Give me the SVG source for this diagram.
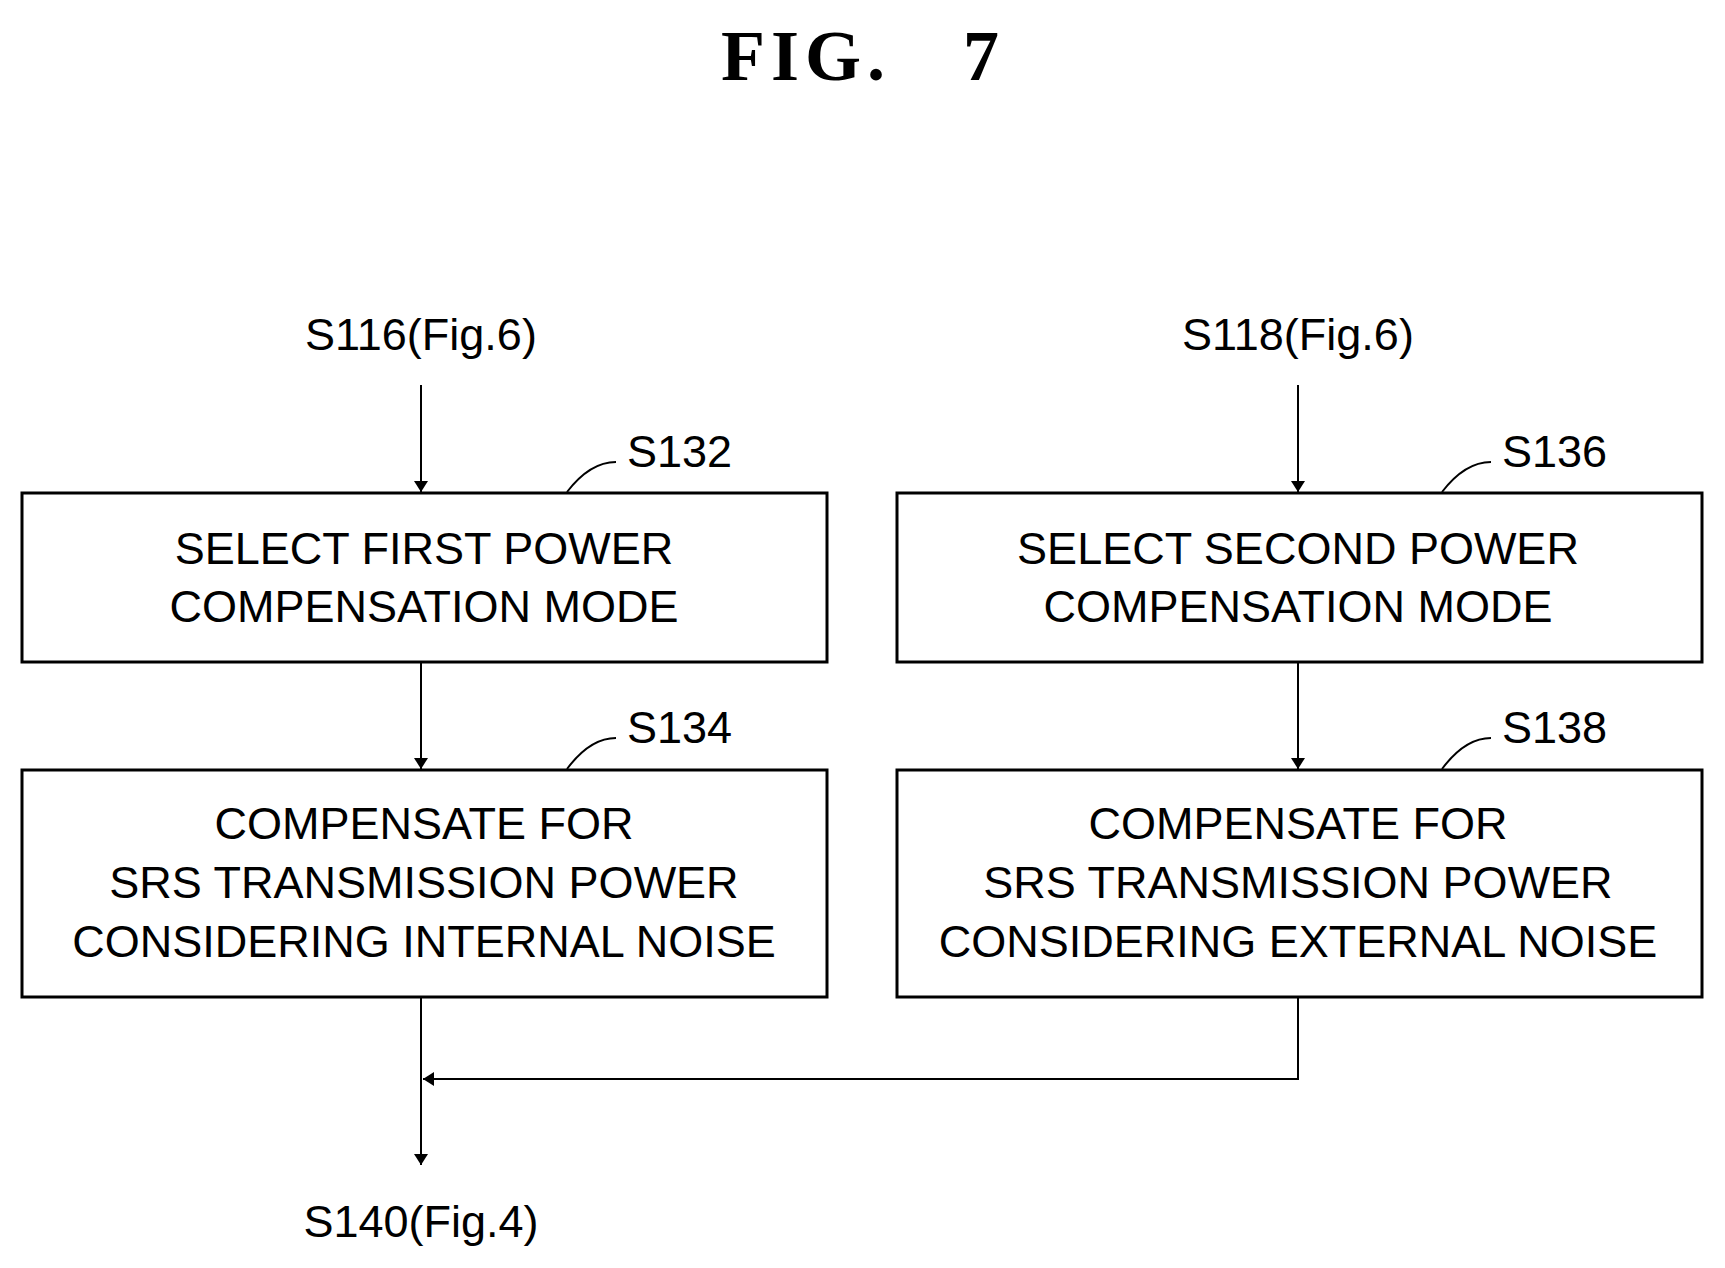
<svg xmlns="http://www.w3.org/2000/svg" width="1725" height="1268" viewBox="0 0 1725 1268">
<style>
.b{fill:#fff;stroke:#000;stroke-width:3}
.t{font-family:"Liberation Sans",Arial,sans-serif;font-size:45px;text-anchor:middle;fill:#000}
.l{font-family:"Liberation Sans",Arial,sans-serif;font-size:45px;fill:#000}
.c{fill:none;stroke:#000;stroke-width:2}
</style>
<defs><marker id="a" markerWidth="12" markerHeight="20" refX="11" refY="10" orient="auto" markerUnits="userSpaceOnUse"><path d="M0,3 L11,10 L0,17 Z" fill="#000"/></marker></defs>
<rect width="1725" height="1268" fill="#fff"/>
<text x="863" y="80" font-family="Liberation Serif,serif" font-weight="bold" font-size="72" text-anchor="middle" letter-spacing="6" xml:space="preserve">FIG.   7</text>
<text class="t" x="421" y="350">S116(Fig.6)</text>
<text class="t" x="1298" y="350">S118(Fig.6)</text>
<text class="t" x="421" y="1237">S140(Fig.4)</text>
<g id="s132"><rect class="b" x="22" y="493" width="805" height="169"/><text class="t" x="424" y="564">SELECT FIRST POWER</text><text class="t" x="424" y="622">COMPENSATION MODE</text><path class="c" d="M567,492 Q590,462 616,462"/><text class="l" x="627" y="467">S132</text></g>
<g id="s134"><rect class="b" x="22" y="770" width="805" height="227"/><text class="t" x="424" y="839">COMPENSATE FOR</text><text class="t" x="424" y="898">SRS TRANSMISSION POWER</text><text class="t" x="424" y="957">CONSIDERING INTERNAL NOISE</text><path class="c" d="M567,769 Q590,738 616,738"/><text class="l" x="627" y="743">S134</text></g>
<g id="s136"><rect class="b" x="897" y="493" width="805" height="169"/><text class="t" x="1298" y="564">SELECT SECOND POWER</text><text class="t" x="1298" y="622">COMPENSATION MODE</text><path class="c" d="M1442,492 Q1465,462 1491,462"/><text class="l" x="1502" y="467">S136</text></g>
<g id="s138"><rect class="b" x="897" y="770" width="805" height="227"/><text class="t" x="1298" y="839">COMPENSATE FOR</text><text class="t" x="1298" y="898">SRS TRANSMISSION POWER</text><text class="t" x="1298" y="957">CONSIDERING EXTERNAL NOISE</text><path class="c" d="M1442,769 Q1465,738 1491,738"/><text class="l" x="1502" y="743">S138</text></g>
<g id="connectors" class="c">
<path class="c" d="M421,385 V492" marker-end="url(#a)"/>
<path class="c" d="M1298,385 V492" marker-end="url(#a)"/>
<path class="c" d="M421,662 V769" marker-end="url(#a)"/>
<path class="c" d="M1298,662 V769" marker-end="url(#a)"/>
<path class="c" d="M1298,997 V1079 H423" marker-end="url(#a)"/>
<path class="c" d="M421,997 V1165" marker-end="url(#a)"/>
</g>
</svg>
